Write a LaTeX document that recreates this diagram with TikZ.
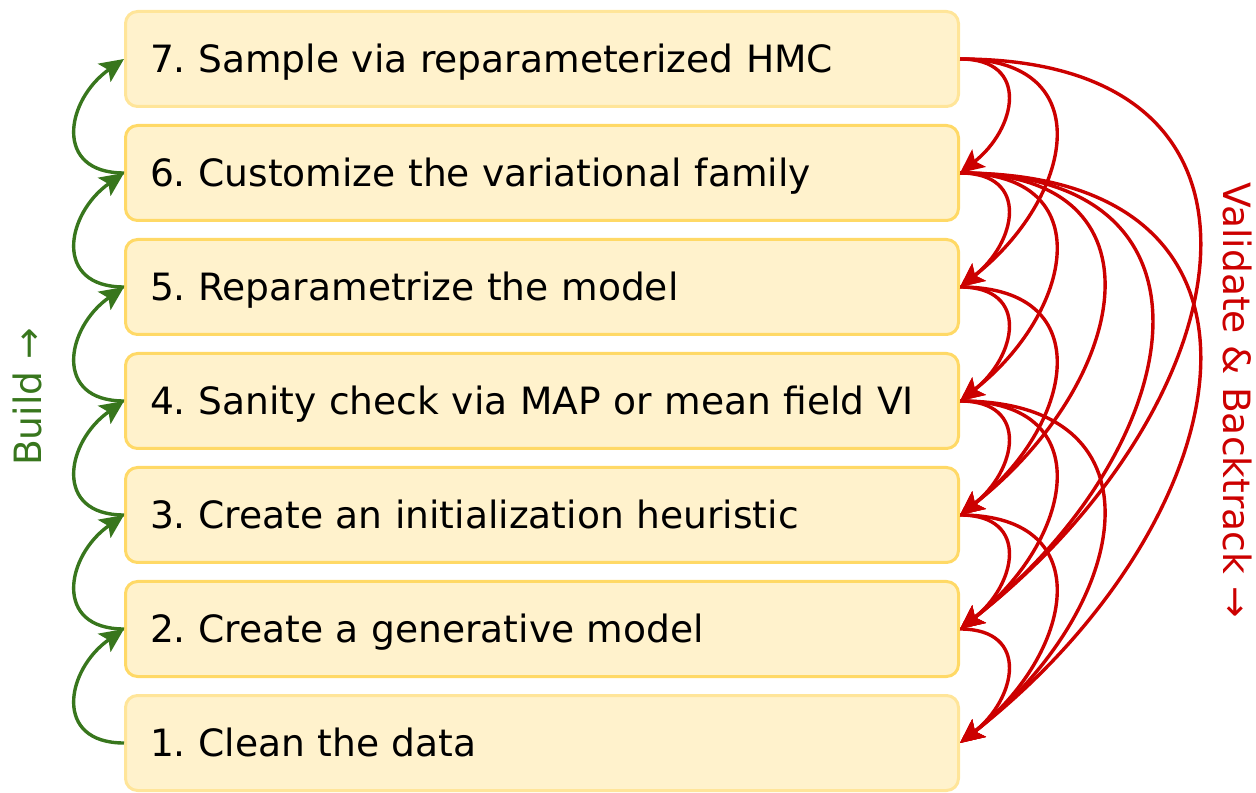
\documentclass[tikz,border=0pt]{standalone}
\usepackage{fontspec}
\setmainfont{DejaVu Sans}
\usepackage{xcolor}
\usetikzlibrary{arrows.meta}
\definecolor{boxfill}{HTML}{FFF2CC}
\definecolor{boxline}{HTML}{FFD966}
\definecolor{boxfade}{HTML}{FFE599}
\definecolor{buildgreen}{HTML}{38761D}
\definecolor{backred}{HTML}{CC0000}
\frenchspacing

\begin{document}
\begin{tikzpicture}[x=0.5pt, y=0.5pt,
  stepbox/.style={draw=boxline, fill=boxfill, line width=1.5pt, rounded corners=6pt,
    minimum height=47.5pt, text width=392pt, inner xsep=12.25pt, align=left,
    text height=13.6pt, text depth=0pt, font=\fontsize{18.8}{22}\selectfont},
  sidelabel/.style={text height=13.6pt, text depth=0pt, font=\fontsize{18.8}{22}\selectfont},
  tip/.style={-{Stealth[length=12pt, width=11pt, inset=2.5pt]}, line width=1.7pt},
  build/.style={tip, buildgreen, out=180, in=215, looseness=1.6},
  back/.style={tip, backred, out=0, in=38, looseness=1.6}]
\useasboundingbox (0,0) rectangle (1256,792);

% 步骤
\node[stepbox, draw=boxfade] (s7) at (542,733) {7. Sample via reparameterized HMC};
\node[stepbox] (s6) at (542,619) {6. Customize the variational family};
\node[stepbox] (s5) at (542,505) {5. Reparametrize the model};
\node[stepbox] (s4) at (542,391) {4. Sanity check via MAP or mean field VI};
\node[stepbox] (s3) at (542,277) {3. Create an initialization heuristic};
\node[stepbox] (s2) at (542,163) {2. Create a generative model};
\node[stepbox, draw=boxfade] (s1) at (542,49) {1. Clean the data};

% 构建(左侧)
\draw[build] (s1.west) to (s2.west);
\draw[build] (s2.west) to (s3.west);
\draw[build] (s3.west) to (s4.west);
\draw[build] (s4.west) to (s5.west);
\draw[build] (s5.west) to (s6.west);
\draw[build] (s6.west) to (s7.west);

% 验证与回溯(右侧)
\draw[back] (s7.east) to (s6.east);
\draw[back] (s7.east) to (s5.east);
\draw[back] (s7.east) to (s2.east);
\draw[back] (s6.east) to (s5.east);
\draw[back] (s6.east) to (s4.east);
\draw[back] (s6.east) to (s3.east);
\draw[back] (s6.east) to (s2.east);
\draw[back] (s6.east) to (s1.east);
\draw[back] (s5.east) to (s4.east);
\draw[back] (s5.east) to (s3.east);
\draw[back] (s4.east) to (s3.east);
\draw[back] (s4.east) to (s2.east);
\draw[back] (s4.east) to (s1.east);
\draw[back] (s3.east) to (s2.east);
\draw[back] (s3.east) to (s1.east);
\draw[back] (s2.east) to (s1.east);

% 标注
\node[sidelabel, buildgreen, rotate=90] (buildlbl) at (28,395) {Build →};
\node[sidelabel, backred, rotate=-90] (backlbl) at (1237,392) {Validate \& Backtrack →};
\end{tikzpicture}
\end{document}
